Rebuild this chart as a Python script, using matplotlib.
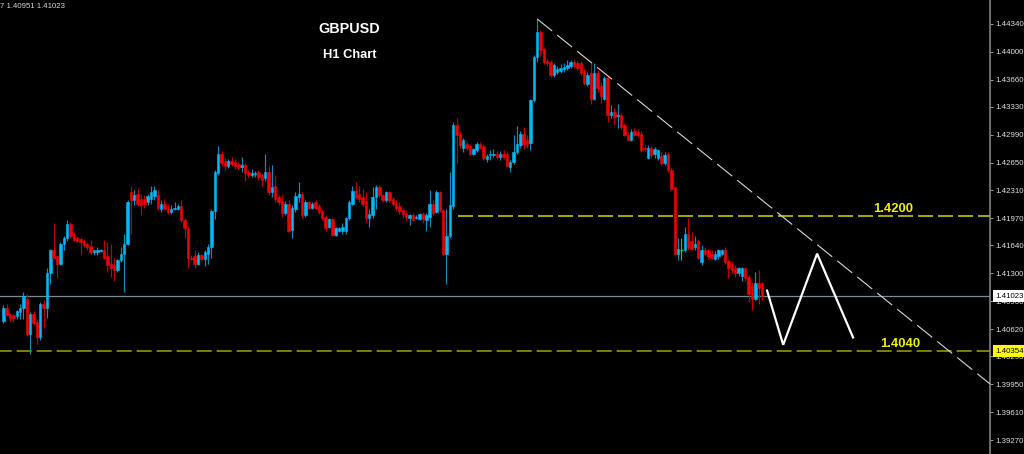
import matplotlib
matplotlib.use('Agg')
import matplotlib.pyplot as plt
import numpy as np
from matplotlib.ticker import FormatStrFormatter
from matplotlib.transforms import blended_transform_factory

plt.rcParams['font.family'] = ['Liberation Sans', 'DejaVu Sans']
plt.rcParams['lines.scale_dashes'] = False

# ---------------- data (GBPUSD H1) ----------------
opens = [
    1.4072, 1.4088, 1.4080, 1.4079, 1.4078, 1.4083, 1.4088, 1.4099, 1.4056, 1.4081,
    1.4071, 1.4053, 1.4093, 1.4088, 1.4130, 1.4158, 1.4151, 1.4142, 1.4166, 1.4173,
    1.4190, 1.4178, 1.4173, 1.4172, 1.4170, 1.4166, 1.4163, 1.4156, 1.4156, 1.4157,
    1.4159, 1.4151, 1.4141, 1.4140, 1.4134, 1.4146, 1.4154, 1.4166, 1.4229, 1.4219,
    1.4227, 1.4221, 1.4221, 1.4217, 1.4221, 1.4224, 1.4225, 1.4209, 1.4215, 1.4209,
    1.4205, 1.4209, 1.4209, 1.4212, 1.4195, 1.4185, 1.4149, 1.4151, 1.4142, 1.4152,
    1.4148, 1.4154, 1.4162, 1.4206, 1.4252, 1.4275, 1.4267, 1.4261, 1.4267, 1.4266,
    1.4263, 1.4259, 1.4262, 1.4254, 1.4250, 1.4251, 1.4254, 1.4250, 1.4246, 1.4254,
    1.4229, 1.4237, 1.4223, 1.4218, 1.4203, 1.4215, 1.4183, 1.4209, 1.4223, 1.4227,
    1.4201, 1.4217, 1.4210, 1.4217, 1.4212, 1.4206, 1.4199, 1.4187, 1.4196, 1.4177,
    1.4182, 1.4182, 1.4182, 1.4197, 1.4215, 1.4230, 1.4227, 1.4223, 1.4218, 1.4198,
    1.4201, 1.4223, 1.4235, 1.4225, 1.4219, 1.4229, 1.4220, 1.4215, 1.4212, 1.4207,
    1.4203, 1.4197, 1.4201, 1.4197, 1.4196, 1.4202, 1.4195, 1.4199, 1.4215, 1.4205,
    1.4229, 1.4207, 1.4154, 1.4176, 1.4212, 1.4311, 1.4300, 1.4283, 1.4287, 1.4285,
    1.4276, 1.4280, 1.4287, 1.4285, 1.4269, 1.4274, 1.4274, 1.4276, 1.4272, 1.4276,
    1.4276, 1.4259, 1.4266, 1.4278, 1.4286, 1.4300, 1.4292, 1.4289, 1.4341, 1.4393,
    1.4424, 1.4403, 1.4389, 1.4387, 1.4372, 1.4375, 1.4376, 1.4379, 1.4380, 1.4383,
    1.4387, 1.4386, 1.4386, 1.4378, 1.4361, 1.4374, 1.4343, 1.4374, 1.4358, 1.4343,
    1.4368, 1.4323, 1.4326, 1.4322, 1.4323, 1.4311, 1.4299, 1.4293, 1.4303, 1.4302,
    1.4300, 1.4283, 1.4271, 1.4283, 1.4276, 1.4271, 1.4273, 1.4264, 1.4276, 1.4256,
    1.4235, 1.4154, 1.4159, 1.4158, 1.4178, 1.4170, 1.4162, 1.4170, 1.4144, 1.4159,
    1.4158, 1.4154, 1.4148, 1.4151, 1.4154, 1.4159, 1.4145, 1.4142, 1.4137, 1.4130,
    1.4127, 1.4136, 1.4125, 1.4115, 1.4099, 1.4118, 1.4118,
]
highs = [
    1.4091, 1.4093, 1.4081, 1.4080, 1.4085, 1.4093, 1.4107, 1.4105, 1.4083, 1.4084,
    1.4075, 1.4095, 1.4098, 1.4137, 1.4160, 1.4191, 1.4153, 1.4168, 1.4176, 1.4195,
    1.4193, 1.4181, 1.4175, 1.4173, 1.4172, 1.4168, 1.4171, 1.4159, 1.4162, 1.4160,
    1.4171, 1.4168, 1.4166, 1.4149, 1.4148, 1.4162, 1.4178, 1.4219, 1.4237, 1.4231,
    1.4233, 1.4227, 1.4225, 1.4227, 1.4236, 1.4237, 1.4231, 1.4219, 1.4221, 1.4214,
    1.4213, 1.4217, 1.4215, 1.4219, 1.4198, 1.4187, 1.4152, 1.4158, 1.4156, 1.4154,
    1.4158, 1.4166, 1.4209, 1.4256, 1.4285, 1.4279, 1.4270, 1.4269, 1.4272, 1.4269,
    1.4266, 1.4272, 1.4264, 1.4256, 1.4257, 1.4255, 1.4256, 1.4252, 1.4275, 1.4261,
    1.4262, 1.4250, 1.4225, 1.4226, 1.4218, 1.4219, 1.4213, 1.4229, 1.4241, 1.4229,
    1.4219, 1.4218, 1.4217, 1.4219, 1.4214, 1.4208, 1.4201, 1.4197, 1.4197, 1.4186,
    1.4187, 1.4191, 1.4199, 1.4219, 1.4237, 1.4241, 1.4236, 1.4233, 1.4229, 1.4209,
    1.4235, 1.4238, 1.4238, 1.4227, 1.4230, 1.4230, 1.4223, 1.4219, 1.4217, 1.4210,
    1.4207, 1.4202, 1.4203, 1.4201, 1.4203, 1.4205, 1.4203, 1.4232, 1.4219, 1.4231,
    1.4230, 1.4209, 1.4209, 1.4254, 1.4315, 1.4319, 1.4304, 1.4295, 1.4290, 1.4287,
    1.4283, 1.4290, 1.4290, 1.4288, 1.4275, 1.4280, 1.4282, 1.4279, 1.4279, 1.4280,
    1.4279, 1.4268, 1.4298, 1.4309, 1.4304, 1.4308, 1.4298, 1.4343, 1.4396, 1.4440,
    1.4426, 1.4406, 1.4391, 1.4390, 1.4386, 1.4383, 1.4385, 1.4386, 1.4390, 1.4390,
    1.4390, 1.4389, 1.4389, 1.4380, 1.4375, 1.4386, 1.4386, 1.4378, 1.4363, 1.4370,
    1.4370, 1.4335, 1.4331, 1.4336, 1.4325, 1.4313, 1.4302, 1.4306, 1.4307, 1.4306,
    1.4304, 1.4286, 1.4286, 1.4285, 1.4284, 1.4282, 1.4278, 1.4278, 1.4278, 1.4258,
    1.4237, 1.4173, 1.4173, 1.4187, 1.4198, 1.4180, 1.4176, 1.4172, 1.4164, 1.4162,
    1.4160, 1.4158, 1.4157, 1.4160, 1.4160, 1.4162, 1.4147, 1.4145, 1.4140, 1.4138,
    1.4138, 1.4138, 1.4128, 1.4119, 1.4132, 1.4134, 1.4120,
]
lows = [
    1.4069, 1.4078, 1.4072, 1.4071, 1.4075, 1.4075, 1.4075, 1.4054, 1.4032, 1.4067,
    1.4044, 1.4049, 1.4064, 1.4076, 1.4117, 1.4148, 1.4124, 1.4140, 1.4158, 1.4170,
    1.4173, 1.4169, 1.4168, 1.4152, 1.4162, 1.4159, 1.4154, 1.4152, 1.4153, 1.4156,
    1.4148, 1.4132, 1.4125, 1.4121, 1.4132, 1.4144, 1.4107, 1.4164, 1.4178, 1.4213,
    1.4212, 1.4201, 1.4210, 1.4213, 1.4215, 1.4219, 1.4207, 1.4205, 1.4207, 1.4202,
    1.4202, 1.4207, 1.4207, 1.4193, 1.4173, 1.4136, 1.4146, 1.4136, 1.4140, 1.4145,
    1.4139, 1.4142, 1.4149, 1.4196, 1.4250, 1.4261, 1.4256, 1.4258, 1.4261, 1.4257,
    1.4256, 1.4254, 1.4242, 1.4247, 1.4247, 1.4248, 1.4244, 1.4237, 1.4243, 1.4227,
    1.4223, 1.4217, 1.4213, 1.4199, 1.4201, 1.4180, 1.4173, 1.4205, 1.4217, 1.4198,
    1.4199, 1.4208, 1.4209, 1.4208, 1.4202, 1.4195, 1.4182, 1.4185, 1.4176, 1.4176,
    1.4181, 1.4178, 1.4178, 1.4195, 1.4213, 1.4220, 1.4217, 1.4212, 1.4193, 1.4187,
    1.4198, 1.4209, 1.4223, 1.4217, 1.4217, 1.4217, 1.4212, 1.4207, 1.4202, 1.4197,
    1.4195, 1.4189, 1.4194, 1.4196, 1.4195, 1.4191, 1.4182, 1.4186, 1.4201, 1.4203,
    1.4205, 1.4152, 1.4117, 1.4173, 1.4209, 1.4264, 1.4283, 1.4278, 1.4280, 1.4274,
    1.4274, 1.4278, 1.4281, 1.4268, 1.4266, 1.4268, 1.4272, 1.4269, 1.4268, 1.4269,
    1.4259, 1.4254, 1.4263, 1.4275, 1.4283, 1.4281, 1.4283, 1.4280, 1.4339, 1.4387,
    1.4395, 1.4385, 1.4383, 1.4369, 1.4369, 1.4373, 1.4374, 1.4375, 1.4378, 1.4380,
    1.4380, 1.4378, 1.4372, 1.4359, 1.4358, 1.4336, 1.4341, 1.4351, 1.4337, 1.4341,
    1.4315, 1.4319, 1.4311, 1.4307, 1.4306, 1.4297, 1.4291, 1.4291, 1.4297, 1.4296,
    1.4278, 1.4279, 1.4269, 1.4271, 1.4270, 1.4268, 1.4262, 1.4262, 1.4254, 1.4231,
    1.4152, 1.4146, 1.4146, 1.4156, 1.4159, 1.4158, 1.4158, 1.4148, 1.4140, 1.4152,
    1.4148, 1.4147, 1.4146, 1.4148, 1.4152, 1.4141, 1.4124, 1.4130, 1.4126, 1.4127,
    1.4121, 1.4121, 1.4095, 1.4085, 1.4097, 1.4093, 1.4097,
]
closes = [
    1.4088, 1.4079, 1.4076, 1.4076, 1.4084, 1.4088, 1.4103, 1.4056, 1.4081, 1.4069,
    1.4053, 1.4093, 1.4088, 1.4130, 1.4159, 1.4149, 1.4142, 1.4166, 1.4173, 1.4190,
    1.4176, 1.4171, 1.4170, 1.4168, 1.4164, 1.4162, 1.4156, 1.4158, 1.4159, 1.4159,
    1.4149, 1.4140, 1.4137, 1.4134, 1.4146, 1.4154, 1.4166, 1.4217, 1.4219, 1.4225,
    1.4215, 1.4213, 1.4215, 1.4224, 1.4229, 1.4231, 1.4210, 1.4215, 1.4209, 1.4205,
    1.4209, 1.4210, 1.4212, 1.4195, 1.4185, 1.4149, 1.4148, 1.4142, 1.4153, 1.4147,
    1.4156, 1.4162, 1.4206, 1.4254, 1.4275, 1.4264, 1.4261, 1.4267, 1.4263, 1.4261,
    1.4259, 1.4262, 1.4252, 1.4250, 1.4252, 1.4252, 1.4248, 1.4244, 1.4254, 1.4229,
    1.4235, 1.4220, 1.4217, 1.4203, 1.4215, 1.4182, 1.4210, 1.4224, 1.4227, 1.4201,
    1.4217, 1.4210, 1.4215, 1.4210, 1.4205, 1.4198, 1.4185, 1.4196, 1.4177, 1.4185,
    1.4185, 1.4186, 1.4197, 1.4217, 1.4230, 1.4223, 1.4220, 1.4215, 1.4198, 1.4202,
    1.4223, 1.4235, 1.4225, 1.4219, 1.4229, 1.4219, 1.4215, 1.4210, 1.4206, 1.4202,
    1.4199, 1.4201, 1.4195, 1.4199, 1.4202, 1.4196, 1.4201, 1.4215, 1.4203, 1.4229,
    1.4207, 1.4154, 1.4176, 1.4213, 1.4311, 1.4299, 1.4286, 1.4292, 1.4283, 1.4276,
    1.4281, 1.4287, 1.4283, 1.4270, 1.4273, 1.4276, 1.4276, 1.4272, 1.4276, 1.4272,
    1.4261, 1.4266, 1.4278, 1.4287, 1.4300, 1.4287, 1.4286, 1.4341, 1.4393, 1.4424,
    1.4402, 1.4387, 1.4386, 1.4372, 1.4384, 1.4379, 1.4380, 1.4381, 1.4384, 1.4387,
    1.4383, 1.4380, 1.4374, 1.4362, 1.4372, 1.4343, 1.4374, 1.4356, 1.4346, 1.4368,
    1.4323, 1.4326, 1.4320, 1.4323, 1.4308, 1.4299, 1.4293, 1.4302, 1.4299, 1.4299,
    1.4280, 1.4281, 1.4283, 1.4274, 1.4282, 1.4280, 1.4264, 1.4274, 1.4256, 1.4233,
    1.4154, 1.4160, 1.4159, 1.4178, 1.4162, 1.4160, 1.4166, 1.4149, 1.4158, 1.4154,
    1.4151, 1.4149, 1.4154, 1.4158, 1.4159, 1.4144, 1.4137, 1.4134, 1.4130, 1.4136,
    1.4136, 1.4124, 1.4105, 1.4099, 1.4118, 1.4112, 1.4102,
]

price_ticks = [1.39270, 1.39610, 1.39950, 1.40290, 1.40620, 1.40960, 1.41300,
               1.41640, 1.41970, 1.42310, 1.42650, 1.42990, 1.43330, 1.43660,
               1.44000, 1.44340]

current_price = 1.41023
support_price = 1.40354
resistance_level = 1.4200
resistance_start_bar = 135.4
trend_bars = [159, 294]
trend_prices = [1.4440, 1.3995]
zigzag_bars = [227.5, 232.3, 242.4, 253.1]
zigzag_prices = [1.4109, 1.4043, 1.4154, 1.4052]

header_text = "7 1.40951 1.41023"
title_text = "GBPUSD"
subtitle_text = "H1 Chart"
label_hi = "1.4200"
label_lo = "1.4040"
label_hi_pos = (259.1, 1.42044)
label_lo_pos = (261.2, 1.40409)

# ---------------- drawing ----------------
BULL = '#00b8f8'
BEAR = '#f00000'
BULL_WICK = '#1788bb'
BEAR_WICK = '#c00000'

fig = plt.figure(figsize=(10.24, 4.54), dpi=100, facecolor='black')
ax = fig.add_axes([0, 0, 990 / 1024, 1])
ax.set_facecolor('black')

o = np.array(opens); h = np.array(highs); l = np.array(lows); c = np.array(closes)
h = np.maximum(h, np.maximum(o, c)); l = np.minimum(l, np.minimum(o, c))
idx = np.arange(len(c))
up = c > o
dn = c < o
eq = c == o

ax.vlines(idx[up], l[up], h[up], color=BULL_WICK, lw=0.85, zorder=2)
ax.vlines(idx[dn], l[dn], h[dn], color=BEAR_WICK, lw=0.85, zorder=2)
ax.vlines(idx[eq], l[eq], h[eq], color='#00e000', lw=0.85, zorder=2)
ax.bar(idx[up], (c - o)[up], bottom=o[up], width=0.72, color=BULL,
       edgecolor=BULL, linewidth=0.4, zorder=3)
ax.bar(idx[dn], (o - c)[dn], bottom=c[dn], width=0.72, color=BEAR,
       edgecolor=BEAR, linewidth=0.4, zorder=3)
ax.hlines(o[eq], idx[eq] - 0.4, idx[eq] + 0.4, color='#00e000', lw=1.0, zorder=3)

# horizontal levels
ax.axhline(current_price, color='#7b8b9b', lw=0.9, zorder=1)
ax.axhline(support_price, color='#8a8a00', lw=1.3, linestyle=(2.4, (10.8, 3.6)), zorder=1)
ax.hlines(resistance_level, resistance_start_bar, 400, color='#d4d400', lw=1.1,
          linestyle=(0, (10.8, 3.6)), zorder=1)

# trend line and projection
ax.plot(trend_bars, trend_prices, color='#d8d8d8', lw=0.8,
        linestyle=(0, (13.9, 4.6)), zorder=4)
ax.plot(zigzag_bars, zigzag_prices, color='white', lw=1.6, zorder=5,
        solid_joinstyle='miter')

ax.text(*label_hi_pos, label_hi, color='#f0f000', fontsize=9.4, fontweight='bold',
        ha='left', va='baseline', zorder=6)
ax.text(*label_lo_pos, label_lo, color='#f0f000', fontsize=9.4, fontweight='bold',
        ha='left', va='baseline', zorder=6)

ax.set_xlim(-0.983, 293.9)
ax.set_ylim(1.3910, 1.4463)

for s in ['top', 'bottom', 'left']:
    ax.spines[s].set_visible(False)
ax.spines['right'].set_color('#8c8c8c')
ax.spines['right'].set_linewidth(1.1)

ax.set_xticks([])
ax.yaxis.tick_right()
ax.set_yticks(price_ticks)
ax.yaxis.set_major_formatter(FormatStrFormatter('%.5f'))
ax.tick_params(axis='y', colors='#a0a0a0', labelcolor='#e0e0e0', length=2.2,
               width=0.7, pad=1.6, labelsize=5.7, direction='out')

trans = blended_transform_factory(ax.transAxes, ax.transData)
ax.text(995 / 990, current_price, f"{current_price:.5f}", transform=trans,
        fontsize=5.7, color='black', ha='left', va='center', clip_on=False, zorder=10,
        bbox=dict(boxstyle='square,pad=0.3', fc='white', ec='none'))
ax.text(995 / 990, support_price, f"{support_price:.5f}", transform=trans,
        fontsize=5.7, color='black', ha='left', va='center', clip_on=False, zorder=10,
        bbox=dict(boxstyle='square,pad=0.3', fc='#ffff00', ec='none'))

fig.text(0.0, 1 - 8 / 454, header_text, color='#d8d8d8', fontsize=5.6,
         ha='left', va='baseline')
fig.text(349 / 1024, 1 - 33 / 454, title_text, color='white', fontsize=10.4,
         fontweight='bold', ha='center', va='baseline')
fig.text(350 / 1024, 1 - 58 / 454, subtitle_text, color='white', fontsize=9.3,
         fontweight='bold', ha='center', va='baseline')

fig.savefig('out.png', dpi=100, facecolor='black')
